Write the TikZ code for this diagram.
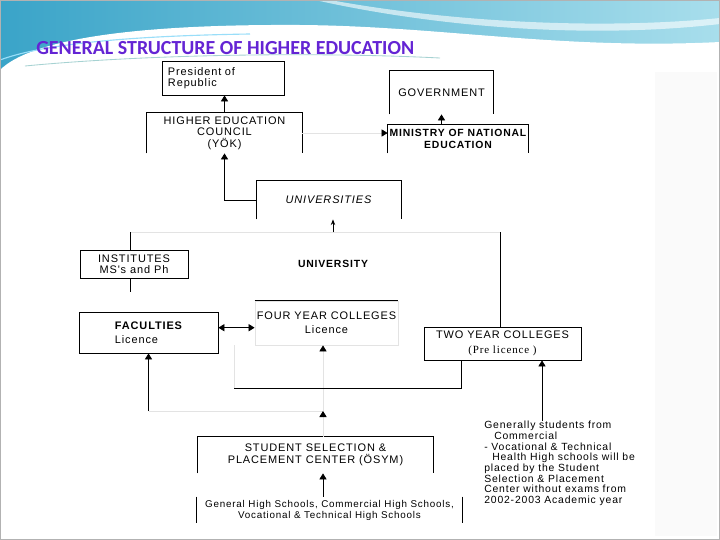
\documentclass[tikz,border=0pt]{standalone}
\usepackage{fontspec}
\setmainfont{Liberation Sans}
\newfontfamily\scanfont[LetterSpace=8]{Liberation Sans}
\newfontfamily\scanserif[LetterSpace=8]{Liberation Serif}
\newfontfamily\titlefont{Carlito}
\usepackage{tikz}
\usetikzlibrary{positioning,arrows.meta,calc}
\definecolor{ttlblue}{RGB}{100,36,212}
\definecolor{hdteal}{RGB}{58,164,200}
\definecolor{hdlight}{RGB}{168,222,236}
\tikzset{
  box/.style={draw, line width=0.6pt, inner sep=0pt, align=center, font=\scanfont\fontsize{7.8}{8.2}\selectfont},
  opn/.style={box, draw=none},
  lbl/.style={inner sep=0pt, align=left, font=\scanfont\fontsize{7.4}{7.6}\selectfont},
  ln/.style={line width=0.6pt},
  faint/.style={line width=0.6pt, gray!22},
  arr/.style={ln, -{Triangle[length=1.5mm, width=1.8mm]}},
  farr/.style={faint, -{Triangle[length=1.5mm, width=1.8mm, color=black]}},
  dbl/.style={ln, {Triangle[length=1.5mm, width=1.8mm]}-{Triangle[length=1.5mm, width=1.8mm]}},
  thin/.style={ln, -{Stealth[length=1.4mm, width=1.1mm]}},
}
\begin{document}
\begin{tikzpicture}[x=0.25mm, y=-0.25mm]
\useasboundingbox (0,0) rectangle (720,540);
% slide
\fill[white] (0,0) rectangle (720,540);
\fill[gray!4] (655,62) rectangle (717,536);
\shade[left color=hdteal, right color=hdlight] (0,0) rectangle (720,70);
\fill[white] (0,70) .. controls (30,40) and (130,24) .. (300,25) .. controls (440,26) and (560,50) .. (720,42) -- (720,72) -- (0,72) -- cycle;
\fill[white, opacity=0.6] (330,0) .. controls (450,22) and (600,30) .. (720,18) -- (720,24) .. controls (600,38) and (450,30) .. (315,0) -- cycle;
\draw[cyan!40, line width=0.8pt] (0,60) .. controls (40,45) and (120,36) .. (250,34);
\draw[teal!35, line width=0.6pt] (25,66) .. controls (150,54) and (320,52) .. (440,58);
\draw[gray!60, line width=0.8pt] (0,0) rectangle (720,540);
\node[font=\titlefont\bfseries\fontsize{14.2}{15}\selectfont, text=ttlblue, anchor=west, inner sep=0pt] (ttl) at (36,48) {GENERAL STRUCTURE OF HIGHER EDUCATION};

% boxes
\node[box, align=left, text width=27.5mm, inner xsep=1.5mm, minimum height=8.5mm] (pres) at (223,78) {President of\\Republic};
\node[opn, minimum width=38.75mm, minimum height=10mm] (hec) at (224.5,133) {HIGHER EDUCATION\\COUNCIL\\(YÖK)};
\node[opn, minimum width=25.75mm, minimum height=10.75mm] (gov) at (441.5,92.5) {GOVERNMENT};
\node[opn, minimum width=35mm, minimum height=7mm, font=\scanfont\bfseries\fontsize{7.4}{8.6}\selectfont] (min) at (458,139) {MINISTRY OF NATIONAL\\EDUCATION};
\node[opn, minimum width=36mm, minimum height=9.5mm, font=\scanfont\itshape\fontsize{7.8}{8.2}\selectfont] (unis) at (328.5,200) {UNIVERSITIES};
\node[inner sep=0pt, font=\scanfont\bfseries\fontsize{7.4}{8}\selectfont] (univt) at (333,264) {UNIVERSITY};
\coordinate (unw) at (130,232);
\coordinate (une) at (500,232);
\node[box, minimum width=27mm, minimum height=7mm] (inst) at (134,264) {INSTITUTES\\MS's and Ph};
\node[box, draw=gray!22, minimum width=35.75mm, minimum height=11mm] (four) at (326.5,323) {FOUR YEAR COLLEGES\\[2pt]Licence};
\node[box, align=left, minimum width=34.75mm, minimum height=10.25mm] (fac) at (148.5,332.5) {\bfseries FACULTIES\\[2pt]Licence};
\node[box, minimum width=39.25mm, minimum height=8.25mm] (two) at (502.5,343.5) {TWO YEAR COLLEGES\\[2pt]{\scanserif (Pre licence )}};
\coordinate (fork) at (323,411);
\coordinate (tl) at (234,388);
\node[opn, minimum width=58.75mm, minimum height=9mm] (sspc) at (315.5,455) {STUDENT SELECTION \&\\PLACEMENT CENTER (ÖSYM)};
\node[opn, minimum width=66.25mm, minimum height=6.5mm, font=\scanfont\fontsize{7}{7.8}\selectfont] (hs) at (329.5,510) {General High Schools, Commercial High Schools,\\Vocational \& Technical High Schools};
\node[lbl, anchor=north west] (note) at (484,421) {Generally students from\\\hspace*{2.5mm}Commercial\\- Vocational \& Technical\\\hspace*{2mm}Health High schools will be\\placed by the Student\\Selection \& Placement\\Center without exams from\\2002-2003 Academic year};

% open boxes
\foreach \n in {hec,gov,min,unis,sspc} {\draw[ln] (\n.south west) -- (\n.north west) -- (\n.north east) -- (\n.south east);}
\draw[ln] (hs.north west) -- (hs.south west) (hs.north east) -- (hs.south east);
\draw[ln] (four.north west) -- (four.north east);

% connectors
\draw[arr] (hec.north) -- (hec.north |- pres.south);
\draw[arr] (gov.south |- min.north) -- (gov.south);
\draw[farr] (hec.east) -- (hec.east -| min.west);
\draw[arr] (unis.west) -| (hec.south);
\draw[faint] (unw) -- (une);
\draw[thin] (univt.north |- unw) -- (univt.north |- unis.south);
\draw[ln] (unw) -- (unw |- inst.north);
\draw[ln] (une) -- (une |- two.north);
\draw[ln] (inst.south -| unw) -- +(0,14);
\draw[dbl] ([yshift=1.2mm]fac.east) -- ([yshift=1.2mm]fac.east -| four.west);
\draw[farr] (fork) -- (four.south -| fork);
\draw[faint] (fork) -- (fork -| fac.south);
\draw[arr] (fork -| fac.south) -- (fac.south);
\draw[ln] ($(two.south)+(-41,0)$) |- (tl);
\draw[faint] (tl) -- +(0,-43);
\draw[farr] (sspc.north -| fork) -- (fork);
\draw[arr] (hs.north -| fork) -- (sspc.south -| fork);
\draw[arr] ($(note.north west)+(58,0)$) coordinate (nt) -- (nt |- two.south);
\end{tikzpicture}
\end{document}
